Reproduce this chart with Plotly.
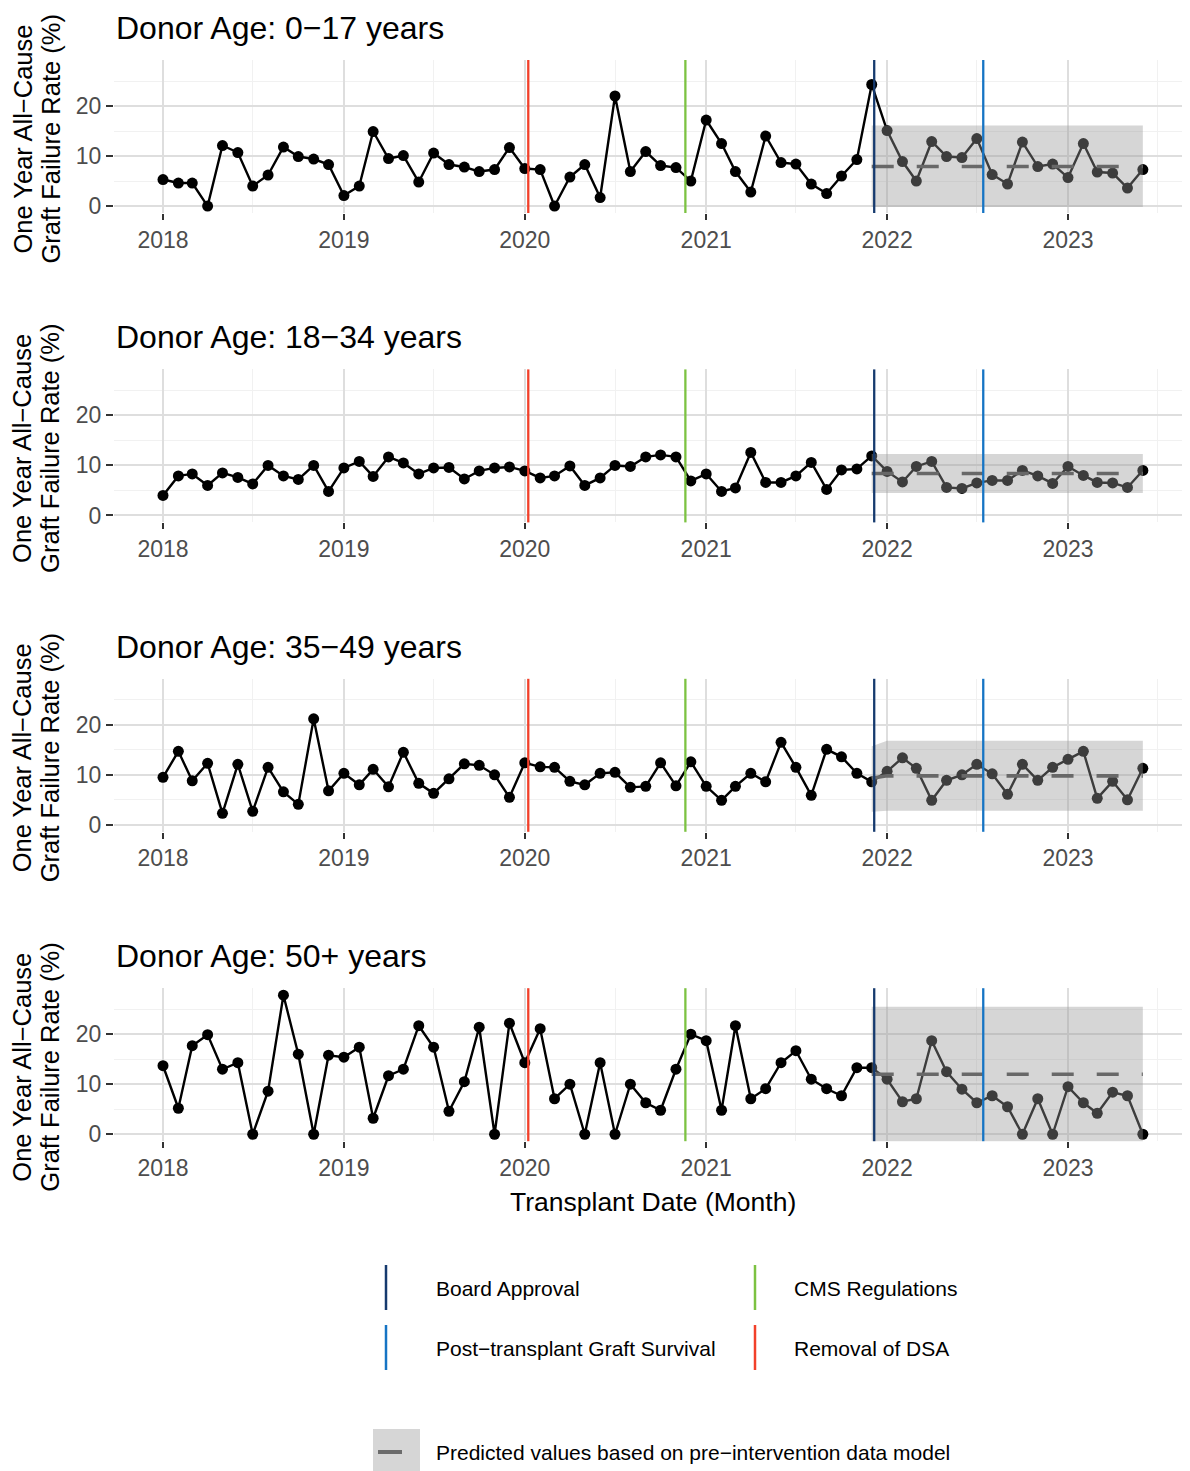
import pandas as pd
import plotly.graph_objects as go

# ---------------- data ----------------
months = pd.date_range("2018-01-01", periods=66, freq="MS")

panel_titles = ["Donor Age: 0\u221217 years", "Donor Age: 18\u221234 years",
                "Donor Age: 35\u221249 years", "Donor Age: 50+ years"]

rate_0_17 = [5.3, 4.6, 4.6, 0, 12.1, 10.7, 4.0, 6.2, 11.8, 9.9, 9.4, 8.3,
             2.1, 4.0, 14.9, 9.5, 10.1, 4.8, 10.6, 8.3, 7.8, 6.9, 7.3, 11.7,
             7.5, 7.3, 0, 5.8, 8.3, 1.7, 22.0, 6.9, 10.9, 8.1, 7.7, 5.0,
             17.2, 12.5, 6.9, 2.8, 14.0, 8.7, 8.4, 4.4, 2.5, 6.0, 9.3, 24.3,
             15.1, 8.9, 5.0, 12.9, 9.9, 9.7, 13.5, 6.3, 4.4, 12.8, 7.9, 8.4,
             5.7, 12.5, 6.8, 6.6, 3.6, 7.3]
rate_18_34 = [4.0, 7.9, 8.3, 6.0, 8.5, 7.6, 6.3, 10.0, 7.9, 7.2, 10.0, 4.8,
              9.5, 10.8, 7.8, 11.7, 10.5, 8.3, 9.5, 9.6, 7.3, 8.9, 9.5, 9.7,
              8.9, 7.5, 7.9, 9.9, 6.0, 7.5, 10.0, 9.8, 11.7, 12.1, 11.7, 6.9,
              8.3, 4.8, 5.5, 12.6, 6.6, 6.6, 7.9, 10.6, 5.2, 9.1, 9.3, 11.9,
              8.8, 6.7, 9.8, 10.8, 5.6, 5.4, 6.5, 7.0, 7.0, 9.0, 7.9, 6.4,
              9.8, 8.0, 6.6, 6.5, 5.6, 9.0]
rate_35_49 = [9.5, 14.7, 8.8, 12.3, 2.3, 12.1, 2.7, 11.5, 6.6, 4.1, 21.2, 6.8,
              10.3, 8.0, 11.1, 7.6, 14.5, 8.3, 6.3, 9.2, 12.2, 11.9, 10.0, 5.5,
              12.4, 11.6, 11.5, 8.7, 8.0, 10.3, 10.5, 7.5, 7.7, 12.4, 7.8, 12.6,
              7.7, 4.9, 7.7, 10.3, 8.6, 16.5, 11.5, 5.9, 15.1, 13.6, 10.3, 8.6,
              10.7, 13.4, 11.3, 4.9, 8.9, 10.0, 12.1, 10.2, 6.1, 12.1, 8.9, 11.5,
              13.1, 14.7, 5.3, 8.7, 5.0, 11.3]
rate_50p = [13.7, 5.2, 17.7, 19.9, 13.0, 14.3, 0, 8.6, 27.8, 16.0, 0, 15.8,
            15.4, 17.4, 3.2, 11.7, 13.0, 21.7, 17.4, 4.6, 10.5, 21.4, 0, 22.2,
            14.3, 21.1, 7.1, 10.0, 0, 14.3, 0, 10.0, 6.3, 4.8, 13.0, 20.0,
            18.7, 4.8, 21.7, 7.1, 9.1, 14.3, 16.7, 11.0, 9.1, 7.7, 13.3, 13.3,
            11.0, 6.5, 7.1, 18.7, 12.5, 9.0, 6.3, 7.7, 5.5, 0, 7.1, 0,
            9.5, 6.3, 4.2, 8.4, 7.7, 0]
rates = [rate_0_17, rate_18_34, rate_35_49, rate_50p]

# predicted (pre-intervention model), Dec 2021 - Jun 2023
pred_months = pd.date_range("2021-12-01", periods=19, freq="MS")
pred_0_17 = [7.9] * 19
lo_0_17 = [-0.2] * 19
hi_0_17 = [16.1] * 19
pred_18_34 = [8.4] * 19
lo_18_34 = [4.5] * 19
hi_18_34 = [12.3] * 19
pred_35_49 = [9.3] + [9.8] * 18
lo_35_49 = [2.6] + [2.8] * 18
hi_35_49 = [15.7] + [16.8] * 18
pred_50p = [12.0] * 19
lo_50p = [-1.5] * 19
hi_50p = [25.5] * 19
preds = [pred_0_17, pred_18_34, pred_35_49, pred_50p]
los = [lo_0_17, lo_18_34, lo_35_49, lo_50p]
his = [hi_0_17, hi_18_34, hi_35_49, hi_50p]

event_names = ["Board Approval", "CMS Regulations",
               "Post\u2212transplant Graft Survival", "Removal of DSA"]
event_dates = ["2021-12-06", "2020-11-20", "2022-07-14", "2020-01-08"]
event_colors = ["#163A6E", "#7CC242", "#1674C4", "#F2402A"]

year_ticks = ["2018", "2019", "2020", "2021", "2022", "2023"]
y_ticks = [0, 10, 20]
y_title_lines = ["One Year All\u2212Cause", "Graft Failure Rate (%)"]

# ---------------- layout geometry ----------------
OFF = 8  # default page body margin
W, H = 1190 - OFF, 1471 - OFF
ML, MR, MT = 114 - OFF, 0, 60 - OFF
PLOT_BOTTOM_REF = 1142
MB = (1471 - PLOT_BOTTOM_REF)
PW = W - ML - MR
PH = H - MT - MB
FONT = "Liberation Sans, Arial, Helvetica, sans-serif"


def px_x(X):
    return (X - 114) / PW


def px_y(Y):
    return (PLOT_BOTTOM_REF - Y) / PH


panel_top = [60 + i * 309.4 for i in range(4)]
panel_h = 153

start = pd.Timestamp("2018-01-01")
px_per_day = 905 / 1826
x_range = [start - pd.Timedelta(days=49 / px_per_day),
           start + pd.Timedelta(days=(114 + PW - 163) / px_per_day)]
y_range = [-1.39, 29.2]

fig = go.Figure()
annotations = []
shapes = []

for i in range(4):
    n = i + 1
    xa = "x" if n == 1 else f"x{n}"
    ya = "y" if n == 1 else f"y{n}"
    fig.add_trace(go.Scatter(x=months, y=rates[i], mode="lines+markers",
                             line=dict(color="black", width=2.4),
                             marker=dict(color="black", size=11),
                             xaxis=xa, yaxis=ya, showlegend=False, hoverinfo="skip"))
    bx = list(pred_months) + list(pred_months[::-1])
    by = list(his[i]) + list(los[i][::-1])
    fig.add_trace(go.Scatter(x=bx, y=by, mode="lines", fill="toself",
                             fillcolor="rgba(153,153,153,0.4)", line=dict(width=0),
                             xaxis=xa, yaxis=ya, showlegend=False, hoverinfo="skip"))
    fig.add_trace(go.Scatter(x=pred_months, y=preds[i], mode="lines",
                             line=dict(color="#686868", width=3.6, dash="22px,23px"),
                             xaxis=xa, yaxis=ya, showlegend=False, hoverinfo="skip"))

    top = panel_top[i]
    bottom = top + panel_h
    dom = [px_y(bottom), px_y(top)]
    xkey = "xaxis" if n == 1 else f"xaxis{n}"
    ykey = "yaxis" if n == 1 else f"yaxis{n}"
    fig.update_layout({
        xkey: dict(domain=[0, 1], anchor=ya, type="date", range=x_range,
                   tickmode="array", tickvals=[f"{t}-01-01" for t in year_ticks],
                   ticktext=year_ticks, ticks="outside", ticklen=6, tickwidth=2,
                   tickcolor="#333333", tickfont=dict(size=23, color="#4d4d4d", family=FONT),
                   showgrid=True, gridcolor="#dedede", gridwidth=2,
                   zeroline=False, showline=False,
                   minor=dict(tickvals=[f"{t}-07-01" for t in year_ticks],
                              showgrid=True, gridcolor="#f1f1f1", gridwidth=1)),
        ykey: dict(domain=dom, anchor=xa, range=y_range, tickmode="array",
                   tickvals=y_ticks, ticktext=[str(v) for v in y_ticks],
                   ticks="outside", ticklen=7, tickwidth=2, tickcolor="#333333",
                   tickfont=dict(size=23, color="#4d4d4d", family=FONT),
                   showgrid=True, gridcolor="#dedede", gridwidth=2,
                   zeroline=False, showline=False,
                   minor=dict(tickvals=[5, 15, 25], showgrid=True,
                              gridcolor="#f1f1f1", gridwidth=1)),
    })

    for d, c in zip(event_dates, event_colors):
        shapes.append(dict(type="line", xref=xa, yref=f"{ya} domain",
                           x0=d, x1=d, y0=0, y1=1, layer="above",
                           line=dict(color=c, width=2.3)))

    annotations.append(dict(text=panel_titles[i], xref="paper", yref="paper",
                            x=px_x(114), y=px_y(top - 32), xanchor="left", yanchor="middle",
                            showarrow=False, font=dict(size=32, color="black", family=FONT)))
    for line_text, lx in zip(y_title_lines, [22, 50]):
        annotations.append(dict(text=line_text, xref="paper", yref="paper",
                                x=px_x(lx), y=px_y(top + panel_h / 2 + 3),
                                xanchor="center", yanchor="middle", textangle=-90,
                                showarrow=False,
                                font=dict(size=25.5, color="black", family=FONT)))

annotations.append(dict(text="Transplant Date (Month)", xref="paper", yref="paper",
                        x=px_x(653), y=px_y(1202), xanchor="center", yanchor="middle",
                        showarrow=False, font=dict(size=26.5, color="black", family=FONT)))

# ---------------- custom legend ----------------
leg_pos = [(386, 1265, 434, 1288), (755, 1265, 792, 1288),
           (386, 1325, 434, 1348), (755, 1325, 792, 1348)]
for (lx, ly, tx, ty), name, c in zip(leg_pos, event_names, event_colors):
    shapes.append(dict(type="line", xref="paper", yref="paper",
                       x0=px_x(lx), x1=px_x(lx), y0=px_y(ly), y1=px_y(ly + 45),
                       line=dict(color=c, width=2.5)))
    annotations.append(dict(text=name, xref="paper", yref="paper", x=px_x(tx), y=px_y(ty),
                            xanchor="left", yanchor="middle", showarrow=False,
                            font=dict(size=21, color="black", family=FONT)))

shapes.append(dict(type="rect", xref="paper", yref="paper",
                   x0=px_x(373), x1=px_x(420), y0=px_y(1429), y1=px_y(1475),
                   fillcolor="#d6d6d6", line=dict(width=0)))
shapes.append(dict(type="line", xref="paper", yref="paper",
                   x0=px_x(378), x1=px_x(402), y0=px_y(1452), y1=px_y(1452),
                   line=dict(color="#6b6b6b", width=4)))
annotations.append(dict(text="Predicted values based on pre\u2212intervention data model",
                        xref="paper", yref="paper", x=px_x(434), y=px_y(1452),
                        xanchor="left", yanchor="middle", showarrow=False,
                        font=dict(size=21, color="black", family=FONT)))

fig.update_layout(width=W, height=H, margin=dict(l=ML, r=MR, t=MT, b=MB, autoexpand=False),
                  plot_bgcolor="white", paper_bgcolor="white",
                  font=dict(family=FONT), showlegend=False,
                  annotations=annotations, shapes=shapes)

fig.write_html("out.html")
